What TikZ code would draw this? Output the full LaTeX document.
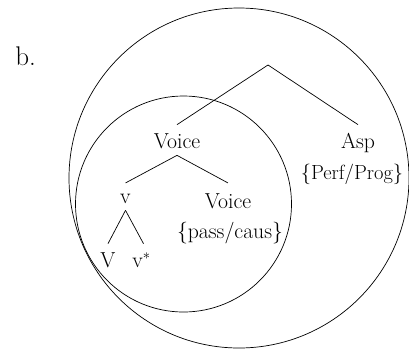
\documentclass[tikz,border=0pt]{standalone}
\usepackage{fontspec}
\begin{document}
\begin{tikzpicture}[x=1pt,y=-1pt,line width=0.7pt,
  tn/.style={font=\fontsize{21.7}{26}\selectfont,inner sep=0pt,anchor=base,text height=23pt,text depth=7pt},
  br/.style={draw,line width=0.7pt}]
\useasboundingbox (0,0) rectangle (409,349);
% circles
\draw (239,178) circle[radius=170pt];
\draw (183.5,204) circle[radius=108pt];
% label
\node[font=\fontsize{27}{30}\selectfont,inner sep=0pt,anchor=base west] (lab) at (15,65) {b.};
% tree nodes
\coordinate (root) at (268,65);
\node[tn] (voiceA) at (177,148) {Voice};
\node[tn] (asp) at (358,148) {Asp};
\node[tn,font=\fontsize{20.5}{25}\selectfont] (perf) at (352,179) {\{Perf/Prog\}};
\node[tn] (v) at (125.5,203) {v};
\node[tn] (voiceB) at (228,208) {Voice};
\node[tn] (pass) at (230,238) {\{pass/caus\}};
\node[tn] (bigV) at (108,267) {V};
\node[tn] (vstar) at (141.5,267) {v$^*$};
% branches
\draw[br] (root) -- (voiceA.north);
\draw[br] (root) -- (asp.north);
\draw[br] (voiceA.south) -- ([yshift=-3.3pt]v.north);
\draw[br] (voiceA.south) -- ([yshift=1.7pt]voiceB.north);
\draw[br] (v.south) -- (bigV.north);
\draw[br] (v.south) -- ([xshift=2pt]vstar.north);
\end{tikzpicture}
\end{document}
